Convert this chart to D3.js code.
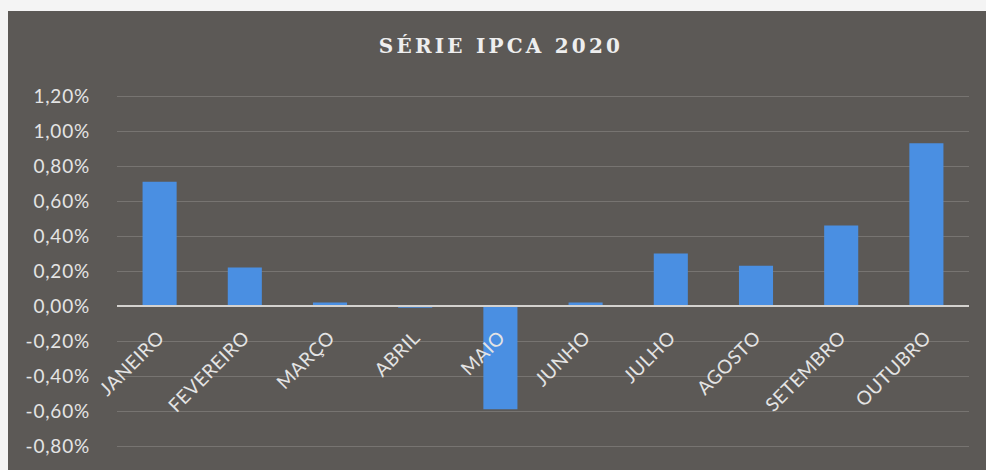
<!DOCTYPE html>
<html>
<head>
<meta charset="utf-8">
<script src="https://cdn.jsdelivr.net/npm/d3@7"></script>
<style>
  body { margin: 0; background: #f4f4f4; }
  svg { display: block; }
</style>
</head>
<body>
<script>
// dados da serie (leitura aproximada do grafico)
var meses = ['JANEIRO', 'FEVEREIRO', 'MARÇO', 'ABRIL', 'MAIO', 'JUNHO', 'JULHO', 'AGOSTO', 'SETEMBRO', 'OUTUBRO'];
var ipca = [0.71, 0.22, 0.02, -0.01, -0.59, 0.02, 0.30, 0.23, 0.46, 0.93];
var ticks = [-0.8, -0.6, -0.4, -0.2, 0, 0.2, 0.4, 0.6, 0.8, 1.0, 1.2];
var titulo = 'SÉRIE IPCA 2020';

var WIDTH = 986;
var HEIGHT = 470;
var PLOT_LEFT = 117;
var PLOT_RIGHT = 969;
var PLOT_TOP = 96;
var PLOT_BOTTOM = 446;
var LABEL_FONT = 'Lato, "Open Sans", sans-serif';

var svg = d3.select('body').append('svg')
    .attr('width', WIDTH)
    .attr('height', HEIGHT);

// fundo escuro do grafico
svg.append('rect')
    .attr('x', 8)
    .attr('y', 11)
    .attr('width', WIDTH - 8)
    .attr('height', HEIGHT - 11)
    .attr('fill', '#5c5956');

var y = d3.scaleLinear()
    .domain([-0.8, 1.2])
    .range([PLOT_BOTTOM, PLOT_TOP]);

var x = d3.scaleBand()
    .domain(meses)
    .range([PLOT_LEFT, PLOT_RIGHT])
    .paddingInner(0.6)
    .paddingOuter(0.3);

// linhas de grade
svg.append('g')
    .attr('transform', 'translate(' + PLOT_LEFT + ',0)')
    .call(d3.axisLeft(y).tickValues(ticks).tickSize(-(PLOT_RIGHT - PLOT_LEFT)).tickFormat(''))
    .call(function(g){ g.select('.domain').remove(); })
    .selectAll('line')
    .attr('stroke', '#777471')
    .attr('stroke-width', 1);

// rotulos do eixo y
svg.append('g')
    .attr('transform', 'translate(' + (PLOT_LEFT - 24) + ',0)')
    .call(d3.axisLeft(y).tickValues(ticks).tickSize(0)
        .tickFormat(function(d){ return d3.format('.2f')(d).replace('.', ',').replace('\u2212', '-') + '%'; }))
    .call(function(g){ g.select('.domain').remove(); })
    .selectAll('text')
    .attr('fill', '#e4e4e4')
    .attr('font-family', LABEL_FONT)
    .attr('font-size', 19)
    .attr('letter-spacing', 0.8)
    .attr('text-anchor', 'end');

// barras
svg.selectAll('.bar').data(ipca).enter()
    .append('rect')
    .attr('class', 'bar')
    .attr('x', function(d, i){ return x(meses[i]); })
    .attr('y', function(d){ return y(Math.max(0, d)); })
    .attr('width', x.bandwidth())
    .attr('height', function(d){ return Math.abs(y(d) - y(0)); })
    .attr('fill', '#4a8fe2');

// linha do zero
svg.append('line')
    .attr('x1', PLOT_LEFT)
    .attr('x2', PLOT_RIGHT)
    .attr('y1', y(0))
    .attr('y2', y(0))
    .attr('stroke', '#d4d2cf')
    .attr('stroke-width', 2);

// rotulos do eixo x, inclinados
svg.selectAll('.mes').data(meses).enter()
    .append('text')
    .attr('class', 'mes')
    .attr('transform', function(d){
        return 'translate(' + (x(d) + x.bandwidth() / 2 + 6) + ',' + (y(0) + 33) + ') rotate(-45)';
    })
    .attr('text-anchor', 'end')
    .attr('fill', '#e4e4e4')
    .attr('font-family', LABEL_FONT)
    .attr('font-size', 19)
    .attr('letter-spacing', 0.5)
    .text(function(d){ return d; });

// titulo
svg.append('text')
    .attr('x', 501)
    .attr('y', 53)
    .attr('text-anchor', 'middle')
    .attr('fill', '#eeeeee')
    .attr('font-family', '"DejaVu Serif", serif')
    .attr('font-weight', 'bold')
    .attr('font-size', 20)
    .attr('letter-spacing', 3.2)
    .text(titulo);
</script>
</body>
</html>
